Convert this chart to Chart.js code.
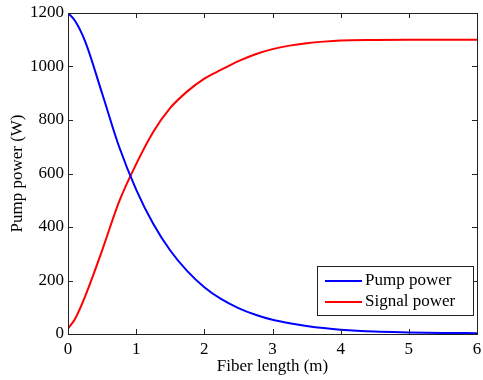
<!DOCTYPE html>
<html lang="en">
<head>
    <meta charset="UTF-8">
    <title>Pump and signal power</title>
    <style>
        body { margin: 0; background: #fff; }
        #wrap { width: 483px; height: 380px; }
    </style>
    <script src="https://cdn.jsdelivr.net/npm/chart.js"></script>
</head>
<body>
    <div id="wrap"><canvas id="powerChart" width="483" height="380"></canvas></div>

    <script>
        // values
        const fiberLength = [0, 0.1, 0.25, 0.5, 0.75, 1.0, 1.25, 1.5, 1.75, 2.0, 2.25, 2.5, 2.75, 3.0, 3.25, 3.5, 3.75, 4.0, 4.5, 5.0, 5.5, 6.0];
        const pumpPower   = [1200, 1172, 1095, 900, 700, 540, 412, 312, 235, 175, 130, 97, 72, 53, 40, 30, 22, 16, 9, 6, 4, 3];
        const signalPower = [20, 55, 140, 312, 495, 635, 755, 845, 907, 955, 988, 1020, 1046, 1065, 1078, 1087, 1093, 1097, 1099, 1100, 1100, 1100];
        const xTicks = [0, 1, 2, 3, 4, 5, 6];
        const yTicks = [0, 200, 400, 600, 800, 1000, 1200];

        const font = { family: "'Liberation Serif', 'Times New Roman', serif", size: 17 };

        function toPoints(ys) {
            return fiberLength.map((x, i) => ({ x: x, y: ys[i] }));
        }

        // box round the plot, inward ticks on all four sides, and the legend box
        const frame = {
            id: 'frame',
            afterDraw(chart) {
                const c = chart.ctx;
                const a = chart.chartArea;
                const xs = chart.scales.x, ys = chart.scales.y;
                c.save();
                c.strokeStyle = '#222';
                c.lineWidth = 1;
                c.strokeRect(a.left + 0.5, a.top + 0.5, a.right - a.left, a.bottom - a.top);
                c.beginPath();
                xTicks.forEach(v => {
                    const px = Math.round(xs.getPixelForValue(v)) + 0.5;
                    c.moveTo(px, a.bottom); c.lineTo(px, a.bottom - 5);
                    c.moveTo(px, a.top); c.lineTo(px, a.top + 5);
                });
                yTicks.forEach(v => {
                    const py = Math.round(ys.getPixelForValue(v)) + 0.5;
                    c.moveTo(a.left, py); c.lineTo(a.left + 5, py);
                    c.moveTo(a.right, py); c.lineTo(a.right - 5, py);
                });
                c.stroke();

                // legend
                const bx = 317, by = 266, bw = 156, bh = 49;
                c.fillStyle = '#fff';
                c.fillRect(bx, by, bw, bh);
                c.strokeRect(bx + 0.5, by + 0.5, bw, bh);
                c.font = font.size + 'px ' + font.family;
                c.textBaseline = 'middle';
                chart.data.datasets.forEach((ds, i) => {
                    const ly = by + 15 + i * 21;
                    c.strokeStyle = ds.borderColor;
                    c.lineWidth = 2;
                    c.beginPath();
                    c.moveTo(bx + 8, ly); c.lineTo(bx + 45, ly);
                    c.stroke();
                    c.fillStyle = '#000';
                    c.fillText(ds.label, bx + 48, ly);
                });
                c.restore();
            }
        };

        new Chart(document.getElementById('powerChart'), {
            type: 'line',
            data: {
                datasets: [{
                    label: 'Pump power',
                    data: toPoints(pumpPower),
                    borderColor: '#0000ff',
                    borderWidth: 2,
                    pointRadius: 0,
                    cubicInterpolationMode: 'monotone'
                }, {
                    label: 'Signal power',
                    data: toPoints(signalPower),
                    borderColor: '#ff0000',
                    borderWidth: 2,
                    pointRadius: 0,
                    cubicInterpolationMode: 'monotone'
                }]
            },
            options: {
                responsive: false,
                animation: false,
                layout: { padding: { left: 0, top: 13, right: 6, bottom: 0 } },
                plugins: { legend: { display: false }, tooltip: { enabled: false } },
                scales: {
                    x: {
                        type: 'linear',
                        min: 0, max: 6,
                        afterFit: s => { s.height = 46; s.paddingLeft = 0; s.paddingRight = 0; },
                        afterBuildTicks: s => { s.ticks = xTicks.map(v => ({ value: v })); },
                        grid: { display: false, drawTicks: false },
                        border: { display: false },
                        ticks: { color: '#000', font: font, padding: 5, maxRotation: 0 },
                        title: { display: true, text: 'Fiber length (m)', color: '#000', font: font, padding: { top: 0, bottom: 3 } }
                    },
                    y: {
                        min: 0, max: 1200,
                        afterFit: s => { s.width = 68; s.paddingTop = 0; s.paddingBottom = 0; },
                        afterBuildTicks: s => { s.ticks = yTicks.map(v => ({ value: v })); },
                        grid: { display: false, drawTicks: false },
                        border: { display: false },
                        ticks: { color: '#000', font: font, padding: 4, callback: v => String(v) },
                        title: { display: true, text: 'Pump power (W)', color: '#000', font: font, padding: { top: 7, bottom: 0 } }
                    }
                }
            },
            plugins: [frame]
        });
    </script>
</body>
</html>
